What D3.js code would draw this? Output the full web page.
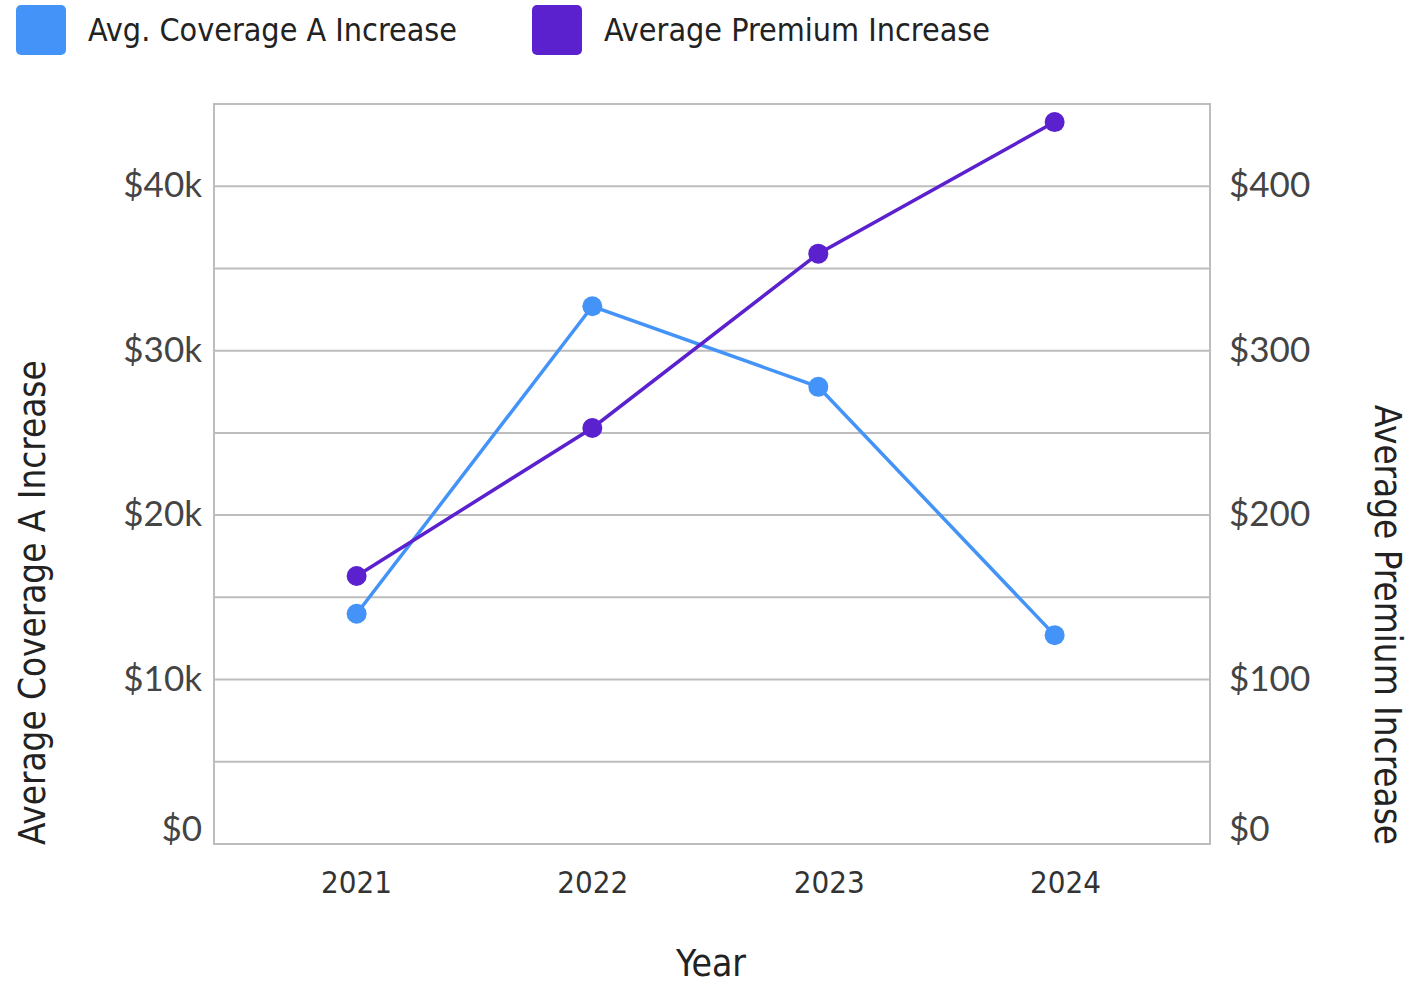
<!DOCTYPE html>
<html>
<head>
<meta charset="utf-8">
<script src="https://cdn.jsdelivr.net/npm/d3@7"></script>
<style>
  html, body { margin: 0; padding: 0; background: #fff; }
  svg { display: block; }
  .tick-y { font-family: Lato, "Open Sans", sans-serif; font-size: 35px; fill: #444; }
  .tick-x { font-family: "DejaVu Sans Condensed", "DejaVu Sans", sans-serif; font-size: 31px; fill: #333; }
  .title { font-family: "DejaVu Sans Condensed", "DejaVu Sans", sans-serif; fill: #222; }
</style>
</head>
<body>
<svg id="chart" width="1415" height="986"></svg>
<script>
// Observation dates per year and the two series
const dates = ["2021-01-02", "2022-01-01", "2022-12-16", "2023-12-16"];
const years = ["2021", "2022", "2023", "2024"];
const coverageA = [14000, 32700, 27800, 12700];
const premium = [163, 253, 359, 439];

const leftTicks = [0, 10000, 20000, 30000, 40000];
const rightTicks = [0, 100, 200, 300, 400];
const gridValues = [5000, 10000, 15000, 20000, 25000, 30000, 35000, 40000];

const seriesNames = ["Avg. Coverage A Increase", "Average Premium Increase"];
const seriesColors = ["#4393F8", "#5B21CF"];

const svg = d3.select("#chart");
const margin = { left: 214, top: 104, right: 205, bottom: 142 };
const W = 1415 - margin.left - margin.right;
const H = 986 - margin.top - margin.bottom;

const parse = d3.timeParse("%Y-%m-%d");
const yearStart = y => parse(y + "-01-01");

// Year ticks sit inside the plot with padding on both sides
const x = d3.scaleTime()
  .domain([yearStart(years[0]), yearStart(years[years.length - 1])])
  .range([142, 851]);
const yL = d3.scaleLinear().domain([0, 45000]).range([H, 0]);
const yR = d3.scaleLinear().domain([0, 450]).range([H, 0]);

const g = svg.append("g").attr("transform", `translate(${margin.left},${margin.top})`);

// Horizontal gridlines
g.append("g").selectAll("line").data(gridValues).join("line")
  .attr("x1", 0).attr("x2", W)
  .attr("y1", d => yL(d)).attr("y2", d => yL(d))
  .attr("stroke", "#bdbdbd").attr("stroke-width", 2);

// Plot frame
g.append("rect").attr("x", 0).attr("y", 0).attr("width", W).attr("height", H)
  .attr("fill", "none").attr("stroke", "#bdbdbd").attr("stroke-width", 2);

const money = d3.format("$,");
const moneyK = d => d === 0 ? "$0" : "$" + (d / 1000) + "k";

// Left axis labels
const leftAxis = g.append("g").call(d3.axisLeft(yL).tickValues(leftTicks).tickFormat(moneyK).tickSize(0).tickPadding(12));
leftAxis.select(".domain").remove();
leftAxis.selectAll("text").attr("class", "tick-y").attr("fill", null)
  .attr("dy", d => d === 0 ? "-0.1em" : "0.3em");

// Right axis labels
const rightAxis = g.append("g").attr("transform", `translate(${W},0)`)
  .call(d3.axisRight(yR).tickValues(rightTicks).tickFormat(money).tickSize(0).tickPadding(19));
rightAxis.select(".domain").remove();
rightAxis.selectAll("text").attr("class", "tick-y").attr("fill", null)
  .attr("dy", d => d === 0 ? "-0.1em" : "0.3em");

// Bottom axis labels
const bottomAxis = g.append("g").attr("transform", `translate(0,${H})`)
  .call(d3.axisBottom(x).tickValues(years.map(yearStart)).tickFormat(d3.timeFormat("%Y")).tickSize(0).tickPadding(27));
bottomAxis.select(".domain").remove();
bottomAxis.selectAll("text").attr("class", "tick-x").attr("fill", null);

// Lines and markers
const rows = dates.map((d, i) => ({ date: parse(d), cov: coverageA[i], prem: premium[i] }));
const series = [
  { key: "cov", scale: yL, color: seriesColors[0] },
  { key: "prem", scale: yR, color: seriesColors[1] }
];
series.forEach(s => {
  const line = d3.line().x(d => x(d.date)).y(d => s.scale(d[s.key]));
  g.append("path").datum(rows).attr("d", line)
    .attr("fill", "none").attr("stroke", s.color).attr("stroke-width", 3.5);
  g.append("g").selectAll("circle").data(rows).join("circle")
    .attr("cx", d => x(d.date)).attr("cy", d => s.scale(d[s.key]))
    .attr("r", 10).attr("fill", s.color);
});

// Axis titles
svg.append("text").attr("class", "title").attr("font-size", 36.5)
  .attr("transform", `translate(45,${margin.top + H + 1}) rotate(-90)`)
  .attr("text-anchor", "start").text("Average Coverage A Increase");
svg.append("text").attr("class", "title").attr("font-size", 36.5)
  .attr("transform", `translate(1375,${margin.top + H + 1}) rotate(90)`)
  .attr("text-anchor", "end").text("Average Premium Increase");
svg.append("text").attr("class", "title").attr("font-size", 37)
  .attr("x", 711).attr("y", 976).attr("text-anchor", "middle").text("Year");

// Legend
const legendX = [16, 532];
const legend = svg.append("g").selectAll("g").data(seriesNames).join("g")
  .attr("transform", (d, i) => `translate(${legendX[i]},5)`);
legend.append("rect").attr("width", 50).attr("height", 50).attr("rx", 5)
  .attr("fill", (d, i) => seriesColors[i]);
legend.append("text").attr("class", "title").attr("font-size", 32)
  .attr("x", 72).attr("y", 36).attr("fill", "#333").text(d => d);
</script>
</body>
</html>
